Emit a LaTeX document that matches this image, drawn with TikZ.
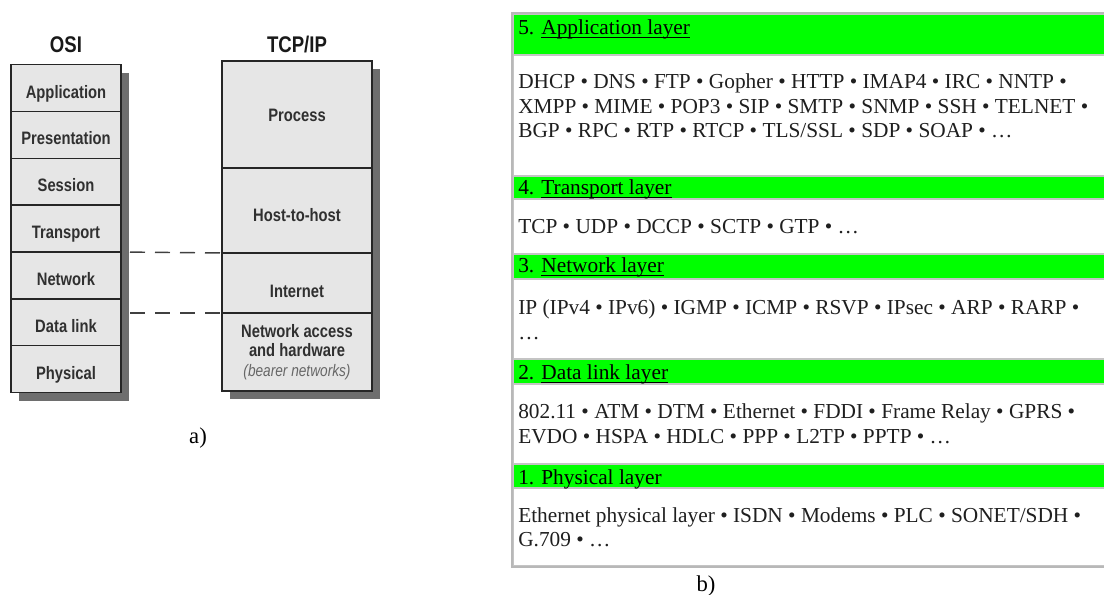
\documentclass[tikz,border=0pt]{standalone}
\usepackage{fontspec}
\setmainfont{Liberation Serif}
\newfontfamily\layerfont[FakeStretch=0.82]{Liberation Sans}
\usetikzlibrary{positioning,shadows}

\definecolor{layerfill}{HTML}{E6E6E6}
\definecolor{shadowgray}{HTML}{6E6E6E}
\definecolor{labelgray}{HTML}{303030}
\definecolor{cellline}{HTML}{C4C4C4}

% underlined link text
\newcommand\layerlink[1]{\setbox0\hbox{#1}\rlap{\rule[-2.4pt]{\wd0}{0.9pt}}\box0}

\begin{document}
\begin{tikzpicture}[x=0.75pt,y=-0.75pt]

		\tikzstyle{osilayer}=[rectangle,
			fill=layerfill,draw=black!85,line width=1pt,outer sep=0pt,
			minimum width=82.5pt,minimum height=35.15pt,
			text=labelgray,text height=15.2pt,text depth=0pt,
			font=\layerfont\bfseries\fontsize{13.5pt}{16pt}\selectfont,
			drop shadow={shadow xshift=6pt,shadow yshift=-6pt,fill=shadowgray,opacity=1}]
		\tikzstyle{tcplayer}=[osilayer,minimum width=112.5pt]
		\tikzstyle{stacktitle}=[anchor=base,inner sep=0pt,text=black!90,
			font=\layerfont\bfseries\fontsize{17pt}{20pt}\selectfont]
		\tikzstyle{layerdash}=[draw=black!75,line width=1.1pt,
			dash pattern=on 11.25pt off 7.5pt,dash phase=12pt]
		\tikzstyle{layerbar}=[fill=green,draw=cellline,line width=1.1pt]
		\tikzstyle{layercell}=[fill=white,draw=cellline,line width=1.1pt]
		\tikzstyle{layertitle}=[anchor=base west,inner sep=0pt,text=black,
			font=\fontsize{16pt}{18pt}\selectfont]
		\tikzstyle{protocols}=[layertitle,text=black!88]
		\tikzstyle{caption}=[inner sep=0pt,font=\fontsize{17pt}{20pt}\selectfont]

		\useasboundingbox (0,0) rectangle (1104,595);

		% a) OSI and TCP/IP stacks
		\node[stacktitle]	(osititle)	at (66,53)	{OSI};
		\node[stacktitle]	(tcptitle)	at (297,53)	{TCP/IP};

		\node[osilayer]	(osiapp)	at (66,88)	{Application};
		\node[osilayer,below=0pt of osiapp]	(osipres)	{Presentation};
		\node[osilayer,below=0pt of osipres]	(osisess)	{Session};
		\node[osilayer,below=0pt of osisess]	(ositrans)	{Transport};
		\node[osilayer,below=0pt of ositrans]	(osinet)	{Network};
		\node[osilayer,below=0pt of osinet]	(osidata)	{Data link};
		\node[osilayer,below=0pt of osidata]	(osiphys)	{Physical};

		\node[tcplayer,minimum height=80.25pt,text height=10pt]	(tcpproc)	at (297,114.5)	{Process};
		\node[tcplayer,minimum height=63.75pt,text height=16.5pt,below=0pt of tcpproc]	(tcphost)	{Host-to-host};
		\node[tcplayer,minimum height=45pt,text height=21.7pt,below=0pt of tcphost]	(tcpinet)	{Internet};
		\node[tcplayer,minimum height=58.5pt,text height=,text depth=,align=center,below=0pt of tcpinet]	(tcpacc)
			{Network access\\[-1.5pt] and hardware\\[-1.5pt]
			{\mdseries\itshape\color{black!60}\fontsize{12.5pt}{15pt}\selectfont (bearer networks)}};

		\draw[layerdash] (ositrans.south east) -- (tcphost.south west);
		\draw[layerdash] (osidata.east |- tcpinet.south west) -- (tcpinet.south west);

		\node[caption]	(capa)	at (198,438)	{a)};

		% b) layers with their protocols
		\draw[layerbar]	(513,14) rectangle (1110,55);
		\draw[layercell]	(513,55) rectangle (1110,176);
		\draw[layerbar]	(513,176) rectangle (1110,199);
		\draw[layercell]	(513,199) rectangle (1110,254);
		\draw[layerbar]	(513,254) rectangle (1110,279);
		\draw[layercell]	(513,279) rectangle (1110,359);
		\draw[layerbar]	(513,359) rectangle (1110,384);
		\draw[layercell]	(513,384) rectangle (1110,464);
		\draw[layerbar]	(513,464) rectangle (1110,488);
		\draw[layercell]	(513,488) rectangle (1110,566);
		\draw[draw=black!28,line width=1pt] (512,13) rectangle (1110,567);

		\node[layertitle]	(apptitle)	at (518,35)	{5. \layerlink{Application layer}};
		\node[protocols]	(appline1)	at (518,89)	{DHCP • DNS • FTP • Gopher • HTTP • IMAP4 • IRC • NNTP •};
		\node[protocols]	(appline2)	at (518,113.5)	{XMPP • MIME • POP3 • SIP • SMTP • SNMP • SSH • TELNET •};
		\node[protocols]	(appline3)	at (518,138)	{BGP • RPC • RTP • RTCP • TLS/SSL • SDP • SOAP • …};

		\node[layertitle]	(transtitle)	at (518,195)	{4. \layerlink{Transport layer}};
		\node[protocols]	(transline)	at (518,234)	{TCP • UDP • DCCP • SCTP • GTP • …};

		\node[layertitle]	(nettitle)	at (518,273)	{3. \layerlink{Network layer}};
		\node[protocols]	(netline1)	at (518,315)	{IP (IPv4 • IPv6) • IGMP • ICMP • RSVP • IPsec • ARP • RARP •};
		\node[protocols]	(netline2)	at (518,339.5)	{…};

		\node[layertitle]	(linktitle)	at (518,380)	{2. \layerlink{Data link layer}};
		\node[protocols]	(linkline1)	at (518,419)	{802.11 • ATM • DTM • Ethernet • FDDI • Frame Relay • GPRS •};
		\node[protocols]	(linkline2)	at (518,443.5)	{EVDO • HSPA • HDLC • PPP • L2TP • PPTP • …};

		\node[layertitle]	(phystitle)	at (518,484)	{1. Physical layer};
		\node[protocols]	(physline1)	at (518,522)	{Ethernet physical layer • ISDN • Modems • PLC • SONET/SDH •};
		\node[protocols]	(physline2)	at (518,546.5)	{G.709 • …};

		\node[caption]	(capb)	at (706,586)	{b)};

	\end{tikzpicture}
\end{document}
